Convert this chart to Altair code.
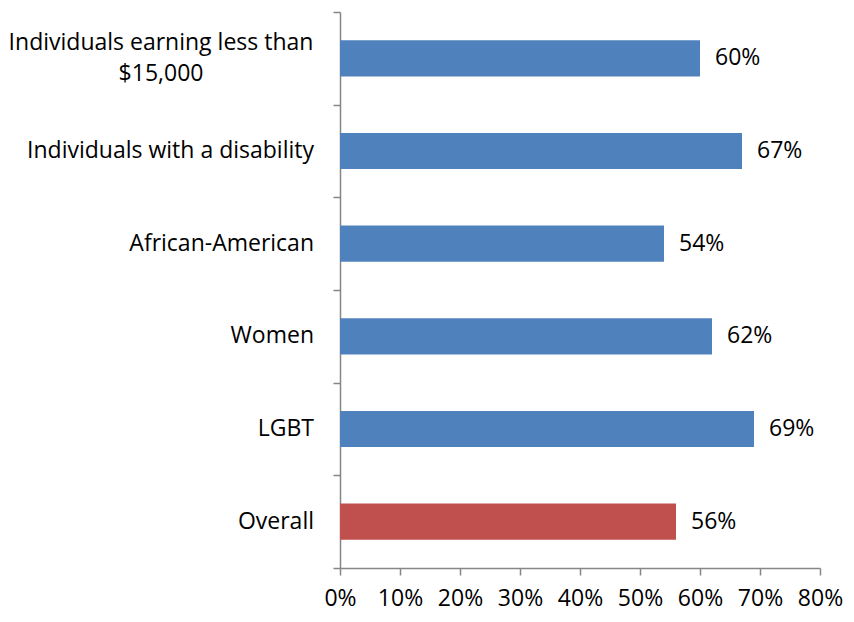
import altair as alt
import pandas as pd

categories = [
    "Individuals earning less than|$15,000",
    "Individuals with a disability",
    "African-American",
    "Women",
    "LGBT",
    "Overall",
]
values = [0.60, 0.67, 0.54, 0.62, 0.69, 0.56]
groups = ["sub", "sub", "sub", "sub", "sub", "overall"]
labels = ["60%", "67%", "54%", "62%", "69%", "56%"]

df = pd.DataFrame({"cat": categories, "val": values, "grp": groups, "lab": labels})
df["multi"] = df["cat"].str.contains(r"\|")

FONT = "Open Sans"
FS = 23
GRAY = "#868686"

y_scale = alt.Scale(paddingInner=0, paddingOuter=0)

y_enc = alt.Y(
    "cat:N",
    sort=categories,
    title=None,
    scale=y_scale,
    axis=alt.Axis(
        labels=False,
        tickBand="extent",
        tickSize=7,
        tickColor=GRAY,
        tickWidth=1.5,
        domainColor=GRAY,
        domainWidth=1.5,
    ),
)

x_enc = alt.X(
    "val:Q",
    title=None,
    scale=alt.Scale(domain=[0, 0.8], nice=False),
    axis=alt.Axis(
        values=[0, 0.1, 0.2, 0.3, 0.4, 0.5, 0.6, 0.7, 0.8],
        format=".0%",
        grid=False,
        labelFlush=False,
        labelFont=FONT,
        labelFontSize=FS,
        labelColor="black",
        labelPadding=12,
        tickSize=7,
        tickColor=GRAY,
        tickWidth=1.5,
        domainColor=GRAY,
        domainWidth=1.5,
    ),
)

base = alt.Chart(df)

bars = base.mark_bar(height={"band": 0.39}).encode(
    x=x_enc,
    y=y_enc,
    color=alt.Color(
        "grp:N",
        scale=alt.Scale(domain=["sub", "overall"], range=["#4F81BD", "#C0504D"]),
        legend=None,
    ),
)

text = base.mark_text(
    align="left", baseline="middle", dx=15, font=FONT, fontSize=FS, color="black"
).encode(
    x="val:Q",
    y=alt.Y("cat:N", sort=categories),
    text="lab:N",
)

cat_single = base.transform_filter("!datum.multi").mark_text(
    align="right", baseline="middle", dx=-26, font=FONT, fontSize=FS, color="black"
).encode(
    x=alt.datum(0),
    y=alt.Y("cat:N", sort=categories),
    text="cat:N",
)

cat_multi = base.transform_filter("datum.multi").transform_calculate(
    lines="split(datum.cat, '|')"
).mark_text(
    align="center", baseline="middle", dx=-179, dy=-15, font=FONT, fontSize=FS,
    color="black", lineHeight=31,
).encode(
    x=alt.datum(0),
    y=alt.Y("cat:N", sort=categories),
    text="lines:N",
)

chart = (
    alt.layer(bars, text, cat_single, cat_multi)
    .properties(
        width=480,
        height=556,
        autosize=alt.AutoSizeParams(type="none"),
        padding={"left": 332, "top": 4, "right": 24, "bottom": 46},
        background="white",
    )
    .configure_view(stroke=None)
)

chart.save("out.html", embed_options={"renderer": "svg", "actions": False})
